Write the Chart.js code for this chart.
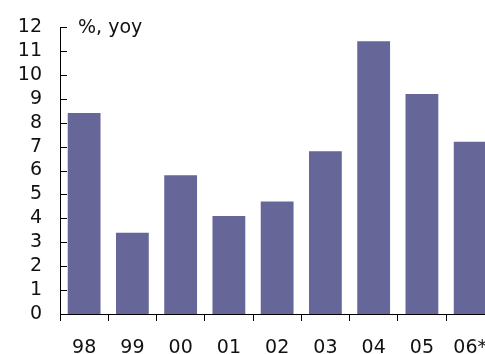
<!DOCTYPE html>
<html>
<head>
<meta charset="utf-8">
<script src="https://cdn.jsdelivr.net/npm/chart.js@4/dist/chart.umd.min.js"></script>
<style>
  html, body { margin: 0; padding: 0; background: #fff; overflow: hidden; }
  #wrap { width: 485px; height: 354px; overflow: hidden; }
</style>
</head>
<body>
<div id="wrap"><canvas id="myChart" width="503" height="354"></canvas></div>
<script>
const years = ['98', '99', '00', '01', '02', '03', '04', '05', '06*'];
const growth = [8.4, 3.4, 5.8, 4.1, 4.7, 6.8, 11.4, 9.2, 7.2];
const unitLabel = '%, yoy';

const textFont = { family: 'DejaVu Sans, sans-serif', size: 19 };

// ticks on the y axis point inwards, so draw them here
const innerTicks = {
    id: 'innerTicks',
    afterDraw(chart) {
        const ctx = chart.ctx;
        const y = chart.scales.y;
        ctx.save();
        ctx.strokeStyle = '#000';
        ctx.lineWidth = 1;
        ctx.beginPath();
        y.ticks.forEach(t => {
            const py = Math.round(y.getPixelForValue(t.value)) + 0.5;
            ctx.moveTo(y.right, py);
            ctx.lineTo(y.right + 7, py);
        });
        ctx.stroke();
        ctx.fillStyle = '#111';
        ctx.font = '19px ' + textFont.family;
        ctx.textBaseline = 'alphabetic';
        ctx.fillText(unitLabel, y.right + 18, 33);
        ctx.restore();
    }
};

new Chart(document.getElementById('myChart'), {
    type: 'bar',
    data: {
        labels: years,
        datasets: [{
            data: growth,
            backgroundColor: '#666699',
            borderWidth: 0,
            categoryPercentage: 0.68,
            barPercentage: 1
        }]
    },
    options: {
        responsive: false,
        animation: false,
        layout: { padding: { top: 27, right: 0, left: 0, bottom: 0 } },
        plugins: { legend: { display: false }, tooltip: { enabled: false } },
        scales: {
            x: {
                offset: true,
                grid: { offset: true, drawOnChartArea: false, tickLength: 7, color: '#000' },
                border: { color: '#000', width: 1 },
                ticks: { color: '#111', font: textFont, padding: 16, maxRotation: 0, autoSkip: false },
                afterFit: s => { s.height = 40; }
            },
            y: {
                min: 0,
                max: 12,
                grid: { display: false },
                border: { color: '#000', width: 1 },
                ticks: { stepSize: 1, autoSkip: false, color: '#111', font: textFont, padding: 10 },
                afterFit: s => { s.width = 60; }
            }
        }
    },
    plugins: [innerTicks]
});
</script>
</body>
</html>
